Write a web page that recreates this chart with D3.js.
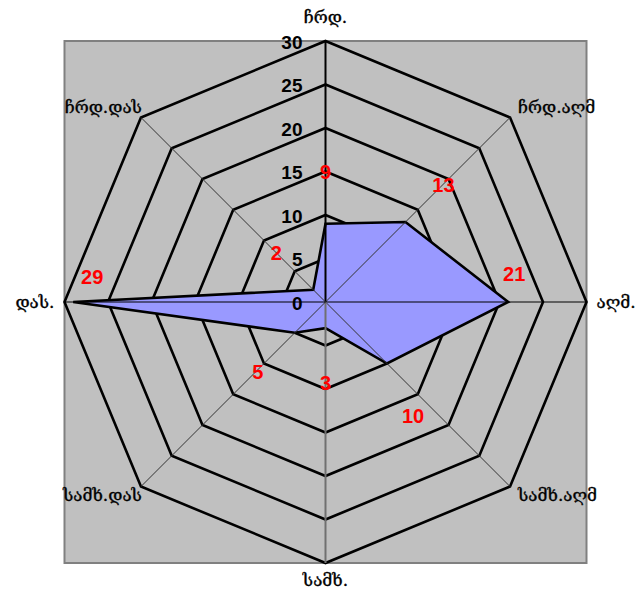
<!DOCTYPE html>
<html>
<head>
<meta charset="utf-8">
<script src="https://cdn.jsdelivr.net/npm/d3@7"></script>
<style>
  html, body { margin: 0; padding: 0; background: #fff; }
  svg { display: block; }
</style>
</head>
<body>
<svg id="chart" width="639" height="595"></svg>
<script>
// Wind directions, clockwise from north
const categories = ["ჩრდ.", "ჩრდ.აღმ", "აღმ.", "სამხ.აღმ", "სამხ.", "სამხ.დას", "დას.", "ჩრდ.დას"];
// Frequency per direction
const values = [9, 13, 21, 10, 3, 5, 29, 2];
// Radial axis ticks
const ticks = [0, 5, 10, 15, 20, 25, 30];

// Layout
const cx = 325.5, cy = 302, R = 261;
// Nudge of each value label from its point (px)
const labelNudge = [[0, -52], [38, -37], [6, -28], [26, 52], [0, 55], [-37, 39], [19, -25], [-37, -37]];

const svg = d3.select("#chart");
const r = d3.scaleLinear().domain([0, 30]).range([0, R]);
const angle = d3.scaleLinear().domain([0, categories.length]).range([0, 2 * Math.PI]);
const px = (i, v) => cx + r(v) * Math.sin(angle(i));
const py = (i, v) => cy - r(v) * Math.cos(angle(i));

// Plot area
svg.append("rect")
  .attr("x", cx - R).attr("y", cy - R)
  .attr("width", 2 * R).attr("height", 2 * R)
  .attr("fill", "#c0c0c0")
  .attr("stroke", "#808080").attr("stroke-width", 2);

// Octagonal grid rings
const ringLine = d3.line().x(d => d[0]).y(d => d[1]);
svg.append("g").selectAll("path")
  .data(ticks.filter(t => t > 0))
  .join("path")
  .attr("d", t => ringLine(categories.map((c, i) => [px(i, t), py(i, t)])) + "Z")
  .attr("fill", "none")
  .attr("stroke", "#000")
  .attr("stroke-width", 2.6)
  .attr("stroke-linejoin", "miter");

// Data polygon
svg.append("path")
  .attr("d", ringLine(values.map((v, i) => [px(i, v), py(i, v)])) + "Z")
  .attr("fill", "#9999ff")
  .attr("stroke", "#000")
  .attr("stroke-width", 2.6)
  .attr("stroke-linejoin", "miter");

// Spokes
const spokes = svg.append("g");
categories.forEach((c, i) => {
  let stroke = "#333", w = 1;
  if (i === 0) { stroke = "#000"; w = 2; }
  else if (i === 4) { stroke = "#707070"; w = 2; }
  else if (i === 2 || i === 6) { stroke = "#000"; w = 1.2; }
  spokes.append("line")
    .attr("x1", cx).attr("y1", cy)
    .attr("x2", px(i, 30)).attr("y2", py(i, 30))
    .attr("stroke", stroke).attr("stroke-width", w);
});

// Radial axis tick labels
svg.append("g").selectAll("text")
  .data(ticks)
  .join("text")
  .attr("x", cx - 23)
  .attr("y", t => cy - r(t))
  .attr("dy", "0.4em")
  .attr("text-anchor", "end")
  .attr("font-family", "Liberation Sans, Arial, sans-serif")
  .attr("font-weight", "bold")
  .attr("font-size", 19)
  .attr("fill", "#000")
  .text(t => t);

// Value labels
svg.append("g").selectAll("text")
  .data(values)
  .join("text")
  .attr("x", (v, i) => px(i, v) + labelNudge[i][0])
  .attr("y", (v, i) => py(i, v) + labelNudge[i][1])
  .attr("dy", "0.36em")
  .attr("text-anchor", "middle")
  .attr("font-family", "Liberation Sans, Arial, sans-serif")
  .attr("font-weight", "bold")
  .attr("font-size", 20)
  .attr("fill", "#ff0000")
  .text(v => v);

// Direction labels
svg.append("g").selectAll("text")
  .data(categories)
  .join("text")
  .each(function (c, i) {
    const s = Math.round(Math.sin(angle(i)) * 100) / 100;
    const co = Math.round(Math.cos(angle(i)) * 100) / 100;
    let dx = 0, dy = 0, anchor = "middle";
    if (s > 0) anchor = "start";
    if (s < 0) anchor = "end";
    if (s === 0) dy = co > 0 ? -24 : 17;
    else if (co === 0) dx = s > 0 ? 10 : -10;
    else { dx = s > 0 ? 8 : 1; dy = co > 0 ? -10 : 8; }
    d3.select(this)
      .attr("x", px(i, 30) + dx)
      .attr("y", py(i, 30) + dy)
      .attr("dy", "0.35em")
      .attr("text-anchor", anchor);
  })
  .attr("font-family", "DejaVu Serif, serif")
  .attr("font-size", 17)
  .attr("fill", "#000")
  .attr("stroke", "#000")
  .attr("stroke-width", 0.35)
  .text(c => c);
</script>
</body>
</html>
